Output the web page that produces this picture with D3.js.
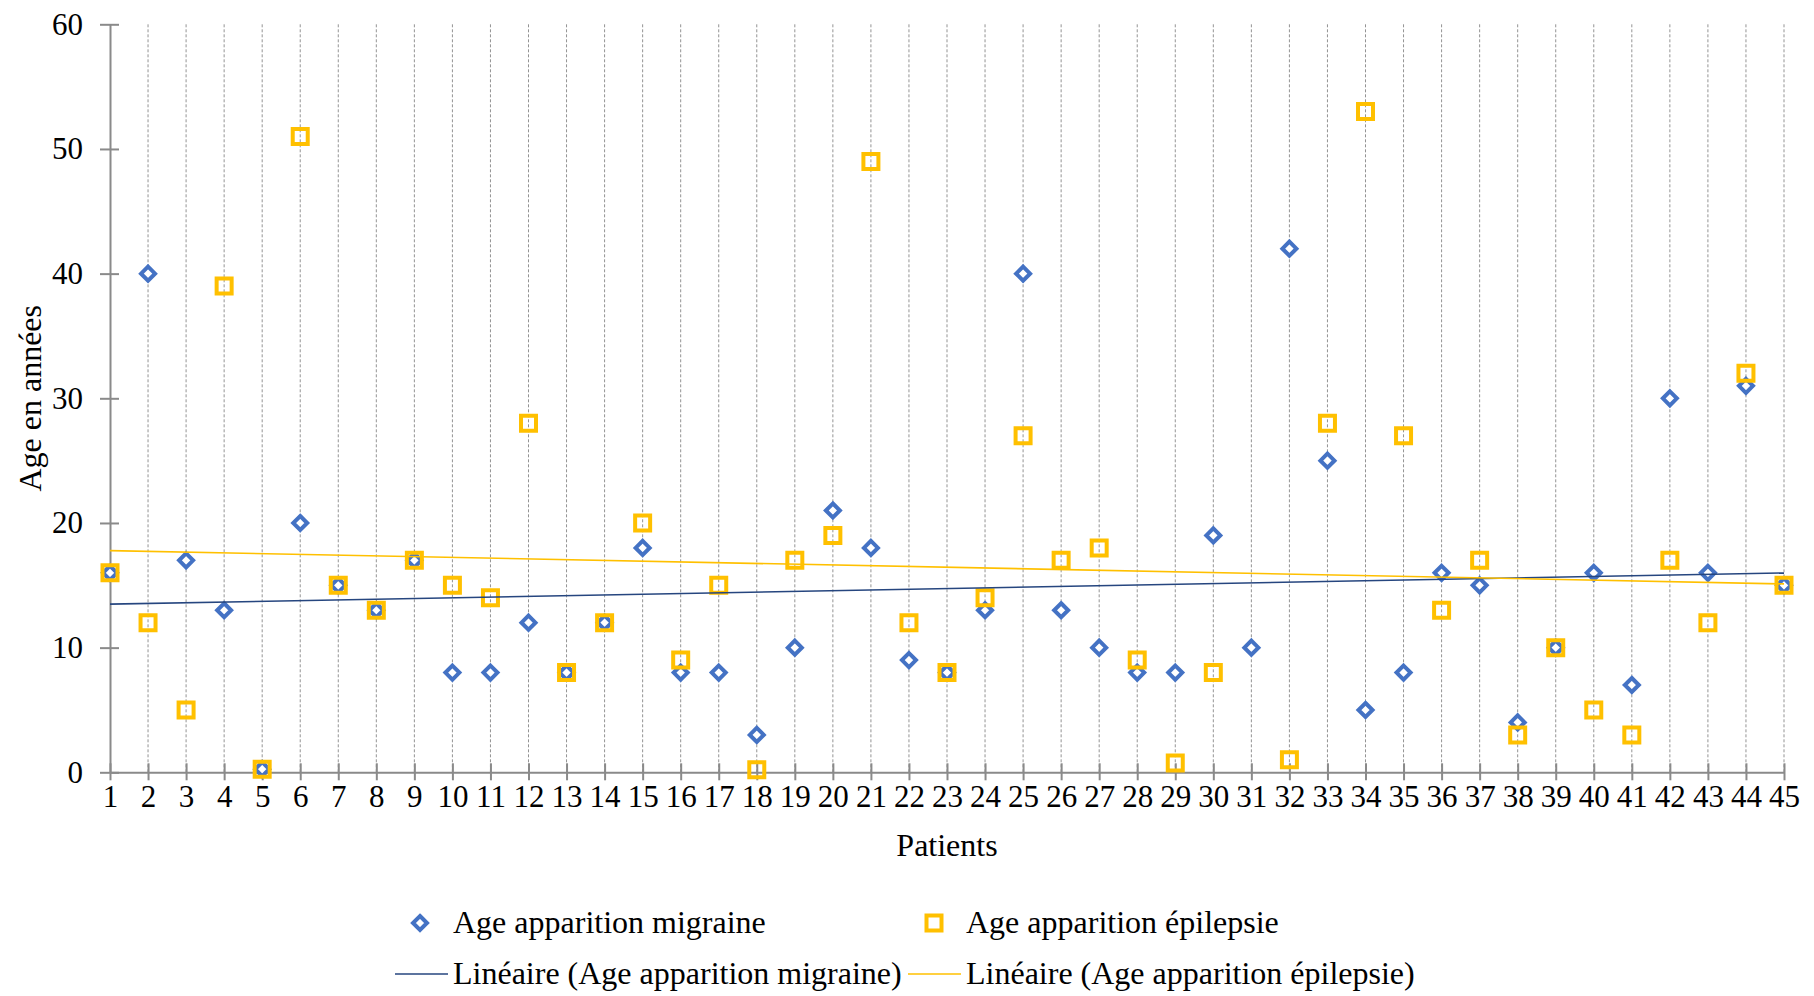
<!DOCTYPE html>
<html lang="fr">
<head>
<meta charset="utf-8">
<title>Age apparition migraine / épilepsie</title>
<script src="https://cdn.jsdelivr.net/npm/d3@7"></script>
<style>
  html, body { margin: 0; padding: 0; background: #ffffff; }
  svg { display: block; }
  svg text { font-family: "Liberation Serif", "Times New Roman", serif; fill: #000; }
</style>
</head>
<body>
<div id="chart"></div>
<script>
// --- PART 1: DATA ---
const patients = d3.range(1, 46); // patients 1..45

const ageMigraine = [
  16, 40, 17, 13, 0.25, 20, 15, 13, 17, 8,
  8, 12, 8, 12, 18, 8, 8, 3, 10, 21,
  18, 9, 8, 13, 40, 13, 10, 8, 8, 19,
  10, 42, 25, 5, 8, 16, 15, 4, 10, 16,
  7, 30, 16, 31, 15
];

// patient 31 has no epilepsy value (blank cell)
const ageEpilepsie = [
  16, 12, 5, 39, 0.25, 51, 15, 13, 17, 15,
  14, 28, 8, 12, 20, 9, 15, 0.2, 17, 19,
  49, 12, 8, 14, 27, 17, 18, 9, 0.75, 8,
  null, 1, 28, 53, 27, 13, 17, 3, 10, 5,
  3, 17, 12, 32, 15
];

const yTicks = [0, 10, 20, 30, 40, 50, 60];

const seriesNames = ["Age apparition migraine", "Age apparition épilepsie"];
const trendNames = ["Linéaire (Age apparition migraine)", "Linéaire (Age apparition épilepsie)"];

// --- PART 2: STYLE / LAYOUT ---
const WIDTH = 1814, HEIGHT = 996;
const BLUE = "#4472C4";
const YELLOW = "#FFC000";
const TREND_BLUE = "#26467F";
const AXIS_GREY = "#8a8a8a";
const TICK_FONT = 31;
const TITLE_FONT = 32;

const plotLeft = 110, plotRight = 1784;
const plotTop = 24.3, plotBottom = 772.3;

const svg = d3.select("#chart").append("svg")
  .attr("width", WIDTH)
  .attr("height", HEIGHT);

const x = d3.scaleLinear().domain([1, 45]).range([plotLeft, plotRight]);
const y = d3.scaleLinear().domain([0, 60]).range([plotBottom, plotTop]);

// --- PART 3: GRID (dotted vertical lines) ---
svg.append("g")
  .selectAll("line")
  .data(patients.slice(1))
  .enter()
  .append("line")
  .attr("x1", d => x(d)).attr("x2", d => x(d))
  .attr("y1", y(60)).attr("y2", y(0))
  .attr("stroke", "#939393")
  .attr("stroke-width", 1)
  .attr("stroke-dasharray", "3,2");

// --- PART 4: AXES ---
const yAxis = d3.axisLeft(y)
  .tickValues(yTicks)
  .tickSize(0)
  .tickPadding(27);

const yAxisG = svg.append("g")
  .attr("transform", `translate(${plotLeft},0)`)
  .call(yAxis);

const xAxis = d3.axisBottom(x)
  .tickValues(patients)
  .tickFormat(d3.format("d"))
  .tickSize(0)
  .tickPadding(13);

const xAxisG = svg.append("g")
  .attr("transform", `translate(0,${plotBottom})`)
  .call(xAxis);

[yAxisG, xAxisG].forEach(g => {
  // drop d3's default sans-serif 10px so the serif font is inherited
  g.attr("font-family", null).attr("font-size", null);
  g.select(".domain").attr("stroke", AXIS_GREY).attr("stroke-width", 2);
  g.selectAll("text")
    .attr("fill", "#000")
    .style("font-family", "'Liberation Serif', 'Times New Roman', serif")
    .style("font-size", TICK_FONT + "px");
});

// cross tick marks
yAxisG.selectAll(".tick").append("line")
  .attr("x1", -10).attr("x2", 9)
  .attr("stroke", AXIS_GREY).attr("stroke-width", 2);
xAxisG.selectAll(".tick").append("line")
  .attr("y1", -9).attr("y2", 8)
  .attr("stroke", AXIS_GREY).attr("stroke-width", 2);

// axis titles
svg.append("text")
  .attr("transform", `translate(30,${(plotTop + plotBottom) / 2}) rotate(-90)`)
  .attr("text-anchor", "middle")
  .attr("dy", "0.35em")
  .style("font-size", TITLE_FONT + "px")
  .text("Age en années");

svg.append("text")
  .attr("x", (plotLeft + plotRight) / 2)
  .attr("y", 856)
  .attr("text-anchor", "middle")
  .style("font-size", TITLE_FONT + "px")
  .text("Patients");

// --- PART 5: MARKERS ---
// custom symbol types: "size" is the half-width in pixels
const diamondType = {
  draw(ctx, r) { ctx.moveTo(0, -r); ctx.lineTo(r, 0); ctx.lineTo(0, r); ctx.lineTo(-r, 0); ctx.closePath(); }
};
const squareType = {
  draw(ctx, r) { ctx.rect(-r, -r, 2 * r, 2 * r); }
};
const diamond = d3.symbol().type(diamondType).size(7);
const square = d3.symbol().type(squareType).size(7.5);

const migrainePts = patients.map((p, i) => ({ p, v: ageMigraine[i] })).filter(d => d.v !== null);
const epilepsiePts = patients.map((p, i) => ({ p, v: ageEpilepsie[i] })).filter(d => d.v !== null);

svg.append("g")
  .selectAll("path")
  .data(migrainePts)
  .enter()
  .append("path")
  .attr("d", diamond)
  .attr("transform", d => `translate(${x(d.p)},${y(d.v)})`)
  .attr("fill", "#ffffff")
  .attr("stroke", BLUE)
  .attr("stroke-width", 4);

svg.append("g")
  .selectAll("path")
  .data(epilepsiePts)
  .enter()
  .append("path")
  .attr("d", square)
  .attr("transform", d => `translate(${x(d.p)},${y(d.v)})`)
  .attr("fill", "none")
  .attr("stroke", YELLOW)
  .attr("stroke-width", 4);

// --- PART 6: LINEAR TRENDLINES (least squares) ---
function linearFit(pts) {
  const mx = d3.mean(pts, d => d.p);
  const my = d3.mean(pts, d => d.v);
  let sxy = 0, sxx = 0;
  pts.forEach(d => { sxy += (d.p - mx) * (d.v - my); sxx += (d.p - mx) ** 2; });
  const slope = sxy / sxx;
  return t => my + slope * (t - mx);
}

const trendLine = d3.line().x(d => x(d[0])).y(d => y(d[1]));

[[migrainePts, TREND_BLUE], [epilepsiePts, YELLOW]].forEach(([pts, color]) => {
  const f = linearFit(pts);
  svg.append("path")
    .datum([[1, f(1)], [45, f(45)]])
    .attr("d", trendLine)
    .attr("fill", "none")
    .attr("stroke", color)
    .attr("stroke-width", 1.6);
});

// --- PART 7: LEGEND ---
const legend = svg.append("g").style("font-size", TITLE_FONT + "px");

legend.append("path").attr("d", diamond)
  .attr("transform", "translate(420,923)")
  .attr("fill", "#fff").attr("stroke", BLUE).attr("stroke-width", 4);
legend.append("text").attr("x", 453).attr("y", 933).text(seriesNames[0]);

legend.append("path").attr("d", square)
  .attr("transform", "translate(934,923)")
  .attr("fill", "none").attr("stroke", YELLOW).attr("stroke-width", 4);
legend.append("text").attr("x", 966).attr("y", 933).text(seriesNames[1]);

legend.append("line").attr("x1", 395).attr("x2", 448).attr("y1", 974).attr("y2", 974)
  .attr("stroke", TREND_BLUE).attr("stroke-width", 1.6);
legend.append("text").attr("x", 453).attr("y", 984).text(trendNames[0]);

legend.append("line").attr("x1", 908).attr("x2", 961).attr("y1", 974).attr("y2", 974)
  .attr("stroke", YELLOW).attr("stroke-width", 1.6);
legend.append("text").attr("x", 966).attr("y", 984).text(trendNames[1]);
</script>
</body>
</html>
